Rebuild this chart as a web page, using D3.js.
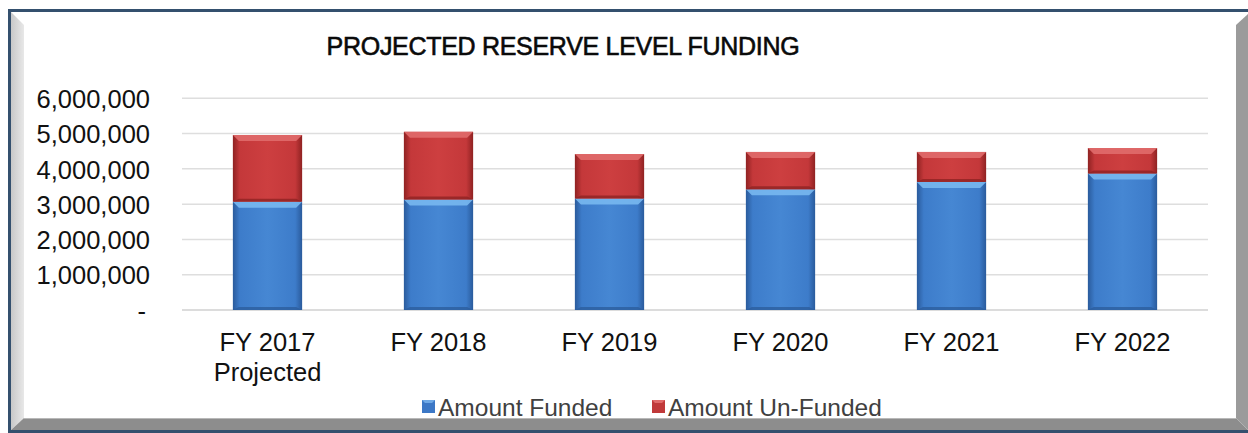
<!DOCTYPE html>
<html>
<head>
<meta charset="utf-8">
<script src="https://cdn.jsdelivr.net/npm/d3@7"></script>
<style>
  html, body { margin: 0; padding: 0; background: #ffffff; }
  svg { display: block; }
  text { font-family: "Liberation Sans", Arial, sans-serif; }
</style>
</head>
<body>
<svg id="chart" width="1248" height="433"></svg>
<script>
// Reserve funding by fiscal year
const categories = [["FY 2017", "Projected"], ["FY 2018"], ["FY 2019"], ["FY 2020"], ["FY 2021"], ["FY 2022"]];
const amountFunded   = [3070000, 3130000, 3160000, 3420000, 3630000, 3870000];
const amountUnfunded = [1890000, 1920000, 1260000, 1060000,  850000,  720000];
const yTicks = [0, 1000000, 2000000, 3000000, 4000000, 5000000, 6000000];
const seriesNames = ["Amount Funded", "Amount Un-Funded"];

const W = 1248, H = 433;
const svg = d3.select("#chart");
const defs = svg.append("defs");

// ---- frame with bevelled edges ----
svg.append("rect").attr("x", 0).attr("y", 0).attr("width", W).attr("height", H).attr("fill", "#ffffff");
svg.append("rect").attr("x", 8).attr("y", 9).attr("width", W - 8).attr("height", H - 9).attr("fill", "#34506e");
svg.append("rect").attr("x", 11).attr("y", 12).attr("width", W - 11).attr("height", 418).attr("fill", "#ffffff");

const lg = defs.append("linearGradient").attr("id", "bevL").attr("x1", 0).attr("x2", 1);
lg.append("stop").attr("offset", 0).attr("stop-color", "#c8c8c8");
lg.append("stop").attr("offset", 1).attr("stop-color", "#e8e8e8");
// left bevel
svg.append("polygon").attr("points", "11,12 24,25 24,418 11,430").attr("fill", "url(#bevL)");
// bottom bevel
svg.append("polygon").attr("points", "11,430 24,418 1236,418 1248,430").attr("fill", "#8d8d8d");
// right bevel
svg.append("polygon").attr("points", "1236,25 1248,14 1248,430 1236,418").attr("fill", "#9b9b9b");
svg.append("line").attr("x1", 24).attr("x2", 1236).attr("y1", 418.5).attr("y2", 418.5).attr("stroke", "#b8b8b8").attr("stroke-width", 1);

// ---- scales ----
const x = d3.scaleBand().domain(d3.range(categories.length)).range([182, 1208]).paddingInner(0.595).paddingOuter(0.2975);
const y = d3.scaleLinear().domain([0, 6000000]).range([310, 98.3]);

// gridlines
svg.append("g").selectAll("line").data(yTicks).join("line")
  .attr("x1", 182).attr("x2", 1208)
  .attr("y1", d => y(d)).attr("y2", d => y(d))
  .attr("stroke", d => d === 0 ? "#d0d0d0" : "#dedede").attr("stroke-width", 1.5);

// y axis labels
const fmt = d => d === 0 ? "-" : d3.format(",")(d);
const yAxis = d3.axisLeft(y).tickValues(yTicks).tickFormat(fmt).tickSize(0).tickPadding(0);
const gy = svg.append("g").attr("transform", "translate(150,0)").call(yAxis);
gy.select(".domain").remove();
gy.selectAll("text")
  .attr("font-family", "'Liberation Sans', Arial, sans-serif")
  .attr("font-size", 25.5).attr("fill", "#111111")
  .attr("dy", "0.36em")
  .attr("dx", d => d === 0 ? -4 : 0);

// x axis labels
const gx = svg.append("g");
categories.forEach((lines, i) => {
  const t = gx.append("text")
    .attr("x", x(i) + x.bandwidth() / 2).attr("y", 351)
    .attr("text-anchor", "middle")
    .attr("font-size", 25.5).attr("fill", "#111111");
  lines.forEach((s, k) => t.append("tspan").attr("x", x(i) + x.bandwidth() / 2).attr("dy", k === 0 ? 0 : 30).text(s));
});

// ---- bar gradients ----
function makeGrad(id, edge, mid, light) {
  const g = defs.append("linearGradient").attr("id", id).attr("x1", 0).attr("x2", 1);
  g.append("stop").attr("offset", 0).attr("stop-color", edge);
  g.append("stop").attr("offset", 0.1).attr("stop-color", mid);
  g.append("stop").attr("offset", 0.5).attr("stop-color", light);
  g.append("stop").attr("offset", 0.9).attr("stop-color", mid);
  g.append("stop").attr("offset", 1).attr("stop-color", edge);
}
makeGrad("gBlue", "#2a5b9c", "#3d7cca", "#4687d3");
makeGrad("gRed", "#8f2222", "#c4383a", "#cd3f40");

const palettes = [
  { fill: "url(#gBlue)", top: "#78b8f0", bottom: "#2c5e9e" },
  { fill: "url(#gRed)",  top: "#e06b6b", bottom: "#8e2323" }
];

const stacks = categories.map((c, i) => [
  { s: 0, y0: 0, y1: amountFunded[i] },
  { s: 1, y0: amountFunded[i], y1: amountFunded[i] + amountUnfunded[i] }
]);

const bev = 6;
const bars = svg.append("g");
stacks.forEach((segs, i) => {
  const x0 = x(i), bw = x.bandwidth(), x1 = x0 + bw;
  segs.forEach(d => {
    const p = palettes[d.s];
    const top = y(d.y1), bot = y(d.y0);
    bars.append("rect").attr("x", x0).attr("y", top).attr("width", bw).attr("height", bot - top).attr("fill", p.fill);
    // lit top bevel
    bars.append("polygon")
      .attr("points", [[x0, top], [x1, top], [x1 - bev, top + bev], [x0 + bev, top + bev]].map(q => q.join(",")).join(" "))
      .attr("fill", p.top).attr("opacity", 0.9);
    // shaded bottom bevel
    bars.append("polygon")
      .attr("points", [[x0, bot], [x1, bot], [x1 - bev, bot - 3], [x0 + bev, bot - 3]].map(q => q.join(",")).join(" "))
      .attr("fill", p.bottom).attr("opacity", 0.8);
  });
});

// ---- title ----
svg.append("text").attr("x", 563).attr("y", 55)
  .attr("text-anchor", "middle").attr("font-size", 25).attr("fill", "#0a0a0a")
  .attr("stroke", "#0a0a0a").attr("stroke-width", 0.6)
  .attr("letter-spacing", -0.3)
  .text("PROJECTED RESERVE LEVEL FUNDING");

// ---- legend ----
const legendItems = [
  { name: seriesNames[0], x: 422, color: "#3c78c6", hi: "#6fa9e6" },
  { name: seriesNames[1], x: 652, color: "#c0393a", hi: "#e06b6b" }
];
const lgG = svg.append("g");
legendItems.forEach(it => {
  lgG.append("rect").attr("x", it.x).attr("y", 400).attr("width", 13).attr("height", 13).attr("fill", it.color);
  lgG.append("polygon").attr("points", `${it.x},400 ${it.x + 13},400 ${it.x + 10},403 ${it.x + 3},403`).attr("fill", it.hi);
  lgG.append("text").attr("x", it.x + 16).attr("y", 415.5).attr("font-size", 24.5).attr("fill", "#404040").text(it.name);
});
</script>
</body>
</html>
